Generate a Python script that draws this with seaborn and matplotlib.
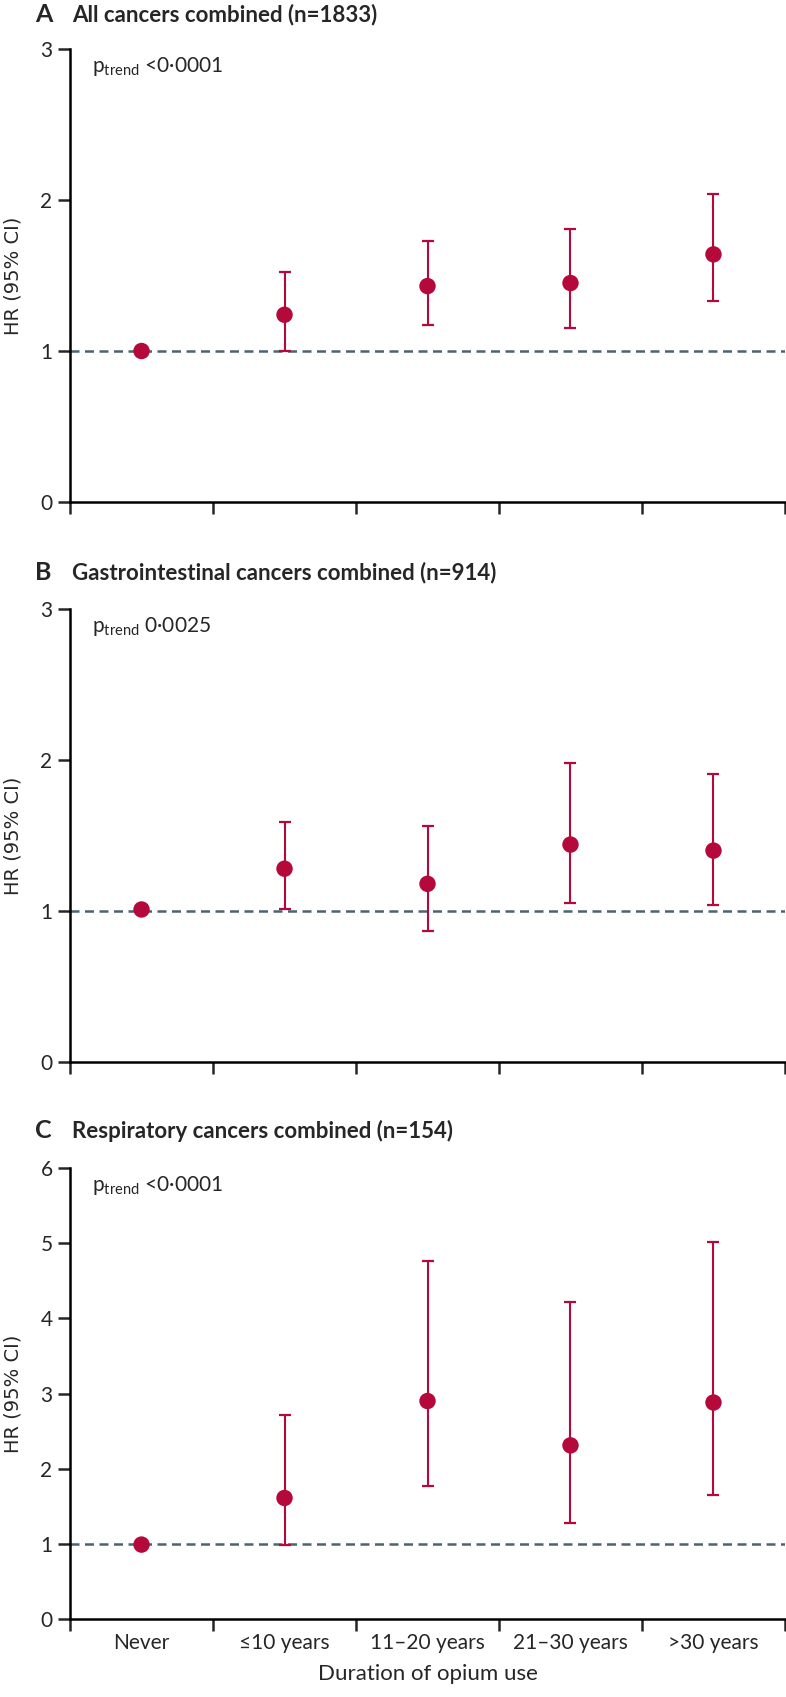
import numpy as np
import pandas as pd
import seaborn as sns
import matplotlib
matplotlib.use("Agg")
import matplotlib.pyplot as plt
from matplotlib.ticker import FixedLocator

# data
categories = ["Never", "≤10 years", "11–20 years", "21–30 years", ">30 years"]

hr_a = [1.00, 1.24, 1.43, 1.45, 1.64]
lo_a = [np.nan, 1.00, 1.17, 1.15, 1.33]
hi_a = [np.nan, 1.52, 1.73, 1.81, 2.04]

hr_b = [1.01, 1.28, 1.18, 1.44, 1.40]
lo_b = [np.nan, 1.01, 0.87, 1.05, 1.04]
hi_b = [np.nan, 1.59, 1.56, 1.98, 1.91]

hr_c = [0.99, 1.61, 2.90, 2.31, 2.88]
lo_c = [np.nan, 0.98, 1.77, 1.28, 1.65]
hi_c = [np.nan, 2.71, 4.76, 4.22, 5.01]

panel_letters = ["A", "B", "C"]
panel_titles = ["All cancers combined (n=1833)",
                "Gastrointestinal cancers combined (n=914)",
                "Respiratory cancers combined (n=154)"]
p_texts = ["<0·0001", "0·0025", "<0·0001"]
y_max = [3, 3, 6]

RED = "#B5083B"
GREY = "#4A6470"

sns.set_style("ticks")
plt.rcParams["font.family"] = ["Lato", "DejaVu Sans"]

fig = plt.figure(figsize=(7.86, 16.97), dpi=100)

# axes boxes (left, bottom, width, height) in figure fraction
boxes = [(0.0891, 0.70418, 0.9096, 0.26694),
         (0.0891, 0.37419, 0.9096, 0.26694),
         (0.0891, 0.04596, 0.9096, 0.26577)]
title_y = [1 - 15 / 1697, 1 - 573 / 1697, 1 - 1131 / 1697]

panels = [(hr_a, lo_a, hi_a), (hr_b, lo_b, hi_b), (hr_c, lo_c, hi_c)]

for i, (hr, lo, hi) in enumerate(panels):
    ax = fig.add_axes(boxes[i])
    df = pd.DataFrame({"duration": categories, "hr": hr, "lo": lo, "hi": hi})
    pos = np.arange(len(df))

    # reference line at HR = 1
    ax.axhline(1, color=GREY, lw=1.8, dashes=(3.6, 2.2), zorder=1)

    ci = df.dropna()
    ci_pos = pos[df["lo"].notna().values]
    ax.errorbar(ci_pos, ci["hr"],
                yerr=[ci["hr"] - ci["lo"], ci["hi"] - ci["hr"]],
                fmt="none", ecolor=RED, elinewidth=1.5,
                capsize=4.6, capthick=1.6, zorder=2)

    sns.scatterplot(x=pos, y=df["hr"], ax=ax, color=RED, s=140,
                    edgecolor="none", linewidth=0, zorder=3, legend=False)

    ax.set_xlim(-0.5, 4.5)
    ax.set_ylim(0, y_max[i])
    ax.set_yticks(np.arange(0, y_max[i] + 1))
    ax.xaxis.set_major_locator(FixedLocator(np.arange(-0.5, 5.0, 1.0)))
    ax.xaxis.set_minor_locator(FixedLocator(pos))
    ax.set_xticklabels([])
    if i == 2:
        ax.set_xticklabels(categories, minor=True)
        ax.set_xlabel("Duration of opium use", fontsize=16, labelpad=8)
    else:
        ax.set_xticklabels([], minor=True)
        ax.set_xlabel("")

    ax.set_ylabel("HR (95% CI)", fontsize=14, labelpad=13,
                  family=["DejaVu Sans"])
    ax.tick_params(axis="both", which="major", direction="out",
                   length=8.6, width=1.8, labelsize=15, pad=4)
    ax.tick_params(axis="x", which="minor", length=0, labelsize=15, pad=10)

    sns.despine(ax=ax)
    for s in ["left", "bottom"]:
        ax.spines[s].set_linewidth(1.8)
        ax.spines[s].set_color("black")

    ax.text(0.031, 0.949, r"$\mathregular{p_{trend}}$ " + p_texts[i],
            transform=ax.transAxes, fontsize=15, va="baseline", ha="left")

    fig.text(35 / 786, title_y[i], panel_letters[i], fontsize=18,
             fontweight="bold", va="center", ha="left")
    fig.text(72 / 786, title_y[i], panel_titles[i], fontsize=16,
             fontweight="bold", va="center", ha="left")

fig.savefig("out.png", dpi=100)
